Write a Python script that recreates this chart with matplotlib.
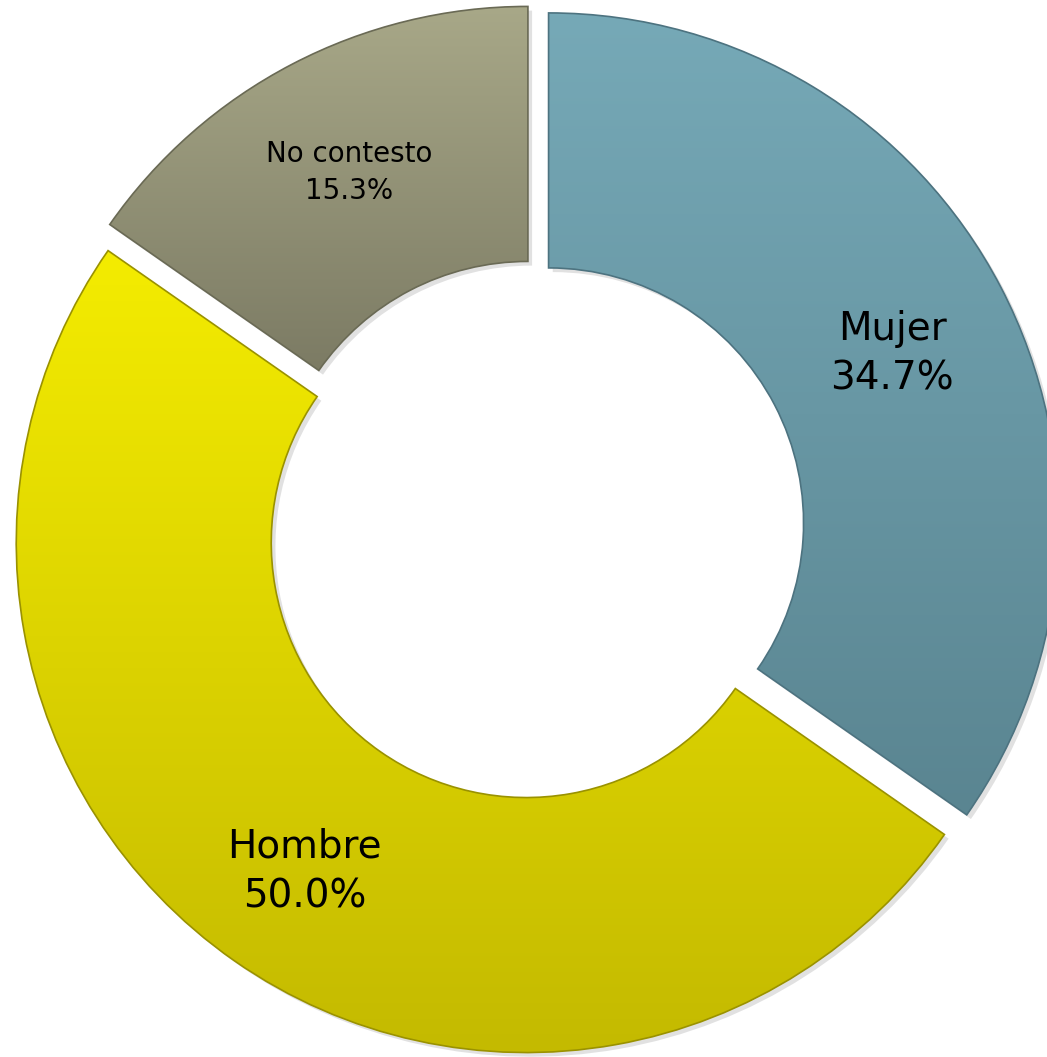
import numpy as np
import matplotlib.pyplot as plt
from matplotlib.colors import LinearSegmentedColormap
from matplotlib.patches import PathPatch
import matplotlib.patheffects as pe

# Datos
categorias = ['Mujer', 'Hombre', 'No contesto']
porcentajes = [34.7, 50.0, 15.3]
# colores (arriba, abajo) para el degradado de cada porcion
colores = [('#76a9b7', '#5a8591'), ('#f4ec00', '#c4ba00'), ('#a8a888', '#7c7b64')]
bordes = ['#4d7380', '#9a9200', '#6a6a55']
tam_letra = [28, 28, 20]
ajuste_y = [-0.02, -0.022, 0.0]  # pequeno corrimiento vertical de las etiquetas

fig = plt.figure(figsize=(10.47, 10.57), dpi=100)
ax = fig.add_axes([0, 0, 1, 1])

cx, cy, R = 535.0, 530.0, 510.0  # centro y radio en pixeles
ax.set_aspect('equal')
ax.axis('off')

wedges, _ = ax.pie(porcentajes, startangle=90, counterclock=False,
                   explode=[0.03] * 3, radius=1.0,
                   wedgeprops=dict(width=0.5, linewidth=1.0))

for w, (c1, c2), bc in zip(wedges, colores, bordes):
    w.set_facecolor(c2)
    w.set_edgecolor('none')
    w.set_path_effects([pe.SimplePatchShadow(offset=(3, -3), shadow_rgbFace='#888888', alpha=0.25),
                        pe.Normal()])
    # degradado vertical dentro de la porcion
    path = w.get_path().transformed(w.get_patch_transform())
    bb = path.get_extents()
    cmap = LinearSegmentedColormap.from_list('g', [c2, c1])
    grad = np.linspace(0, 1, 256).reshape(-1, 1)
    im = ax.imshow(grad, cmap=cmap, origin='lower', aspect='auto',
                   extent=(bb.x0, bb.x1, bb.y0, bb.y1), zorder=w.get_zorder() + 0.1)
    im.set_clip_path(w)
    # borde encima del degradado
    ax.add_patch(PathPatch(path, fill=False, edgecolor=bc, linewidth=1.2,
                           zorder=w.get_zorder() + 0.2))

ax.set_xlim(-cx / R, (1047 - cx) / R)
ax.set_ylim(-(1057 - cy) / R, cy / R)

# Etiquetas
for w, cat, val, fs, dy in zip(wedges, categorias, porcentajes, tam_letra, ajuste_y):
    ang = np.deg2rad((w.theta1 + w.theta2) / 2)
    x0, y0 = w.center
    d = 0.76
    ax.text(x0 + d * np.cos(ang), y0 + d * np.sin(ang) + dy, f'{cat}\n{val:.1f}%',
            ha='center', va='center', fontsize=fs, color='black',
            linespacing=1.4, zorder=10)

fig.savefig('out.png', dpi=100)
